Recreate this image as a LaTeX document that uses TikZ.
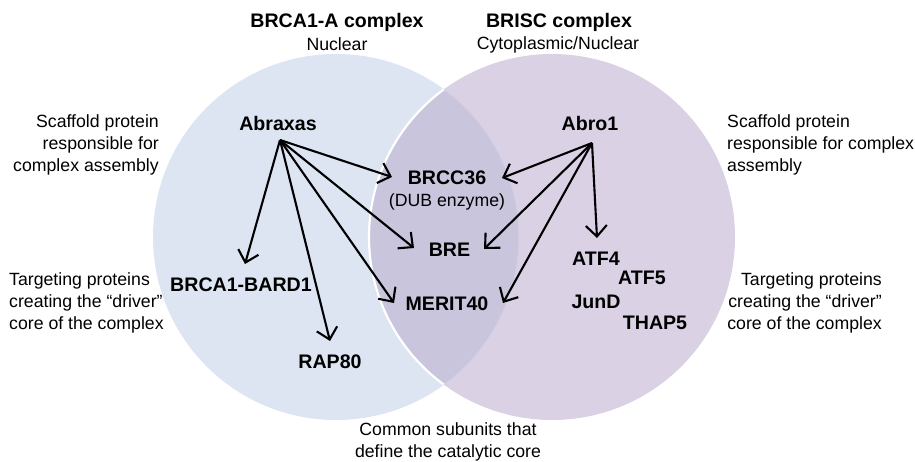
\documentclass[tikz,border=0pt]{standalone}
\usepackage{fontspec}
\setmainfont{Liberation Sans}
\usetikzlibrary{arrows.meta}
\definecolor{cblue}{RGB}{220,229,241}
\definecolor{cpurp}{RGB}{218,210,228}
\definecolor{cover}{RGB}{200,197,221}
\definecolor{cfaint}{RGB}{214,208,230}
\begin{document}
\begin{tikzpicture}[x=1pt,y=-1pt,
  lbl/.style={inner sep=0pt,font=\fontsize{17.7}{22}\selectfont,text=black},
  prot/.style={inner sep=0pt,font=\fontsize{19.6}{22}\selectfont\bfseries,text=black},
  arr/.style={line width=2.1pt,-{Straight Barb[length=11pt,width=21pt,line width=2.1pt]}}]
\useasboundingbox (0,0) rectangle (915,461);
\def\rr{183}
% circles
\fill[cblue] (336,237) circle (\rr);
\fill[cpurp] (552,237) circle (\rr);
\begin{scope}
  \clip (336,237) circle (\rr);
  \fill[cover] (552,237) circle (\rr);
  \draw[white,line width=2.2pt] (552,237) circle (\rr);
\end{scope}
\begin{scope}
  \clip (552,237) circle (\rr);
  \draw[cfaint,line width=1pt] (336,237) circle (\rr);
\end{scope}
% titles
\node[prot] (titleA) at (337,22) {BRCA1-A complex};
\node[lbl] (subA) at (337,44) {Nuclear};
\node[prot] (titleB) at (559,22) {BRISC complex};
\node[lbl] (subB) at (558,45) {Cytoplasmic/Nuclear};
% side labels
\node[lbl,anchor=east,align=right] (scafL) at (159,145) {Scaffold protein\\responsible for\\complex assembly};
\node[lbl,anchor=west,align=left] (scafR) at (727,145) {Scaffold protein\\responsible for complex\\assembly};
\node[lbl,anchor=west,align=left] (targL) at (9,303) {Targeting proteins\\creating the “driver”\\core of the complex};
\node[lbl,anchor=east,align=right] (targR) at (882,303) {Targeting proteins\\creating the “driver”\\core of the complex};
\node[lbl,align=center] (common) at (448,442) {Common subunits that\\define the catalytic core};
% proteins
\node[prot] (abraxas) at (278,123) {Abraxas};
\node[prot] (abro) at (590,123) {Abro1};
\node[prot] (brcc) at (447,178) {BRCC36};
\node[lbl] (dub) at (447,202) {(DUB enzyme)};
\node[prot] (bre) at (449.5,250) {BRE};
\node[prot] (merit) at (447,304) {MERIT40};
\node[prot] (bard) at (241,285) {BRCA1-BARD1};
\node[prot] (rap) at (330,362) {RAP80};
\node[prot] (atf4) at (596,259) {ATF4};
\node[prot] (atf5) at (642,278) {ATF5};
\node[prot] (jund) at (596,302) {JunD};
\node[prot] (thap) at (655,323) {THAP5};
% arrow anchor points
\coordinate (abxs) at (280,140);
\coordinate (abrs) at (592,143);
\coordinate (tBrccL) at (392,177);
\coordinate (tBreL) at (414,248);
\coordinate (tMeritL) at (394,303);
\coordinate (tBard) at (245,264);
\coordinate (tRap) at (330,341);
\coordinate (tBrccR) at (502,178);
\coordinate (tBreR) at (484,249);
\coordinate (tMeritR) at (503,303);
\coordinate (tAtf) at (597,238);
\draw[arr] (abxs) -- (tBrccL);
\draw[arr] (abxs) -- (tBreL);
\draw[arr] (abxs) -- (tMeritL);
\draw[arr] (abxs) -- (tBard);
\draw[arr] (abxs) -- (tRap);
\draw[arr] (abrs) -- (tBrccR);
\draw[arr] (abrs) -- (tBreR);
\draw[arr] (abrs) -- (tMeritR);
\draw[arr] (abrs) -- (tAtf);
\end{tikzpicture}
\end{document}
